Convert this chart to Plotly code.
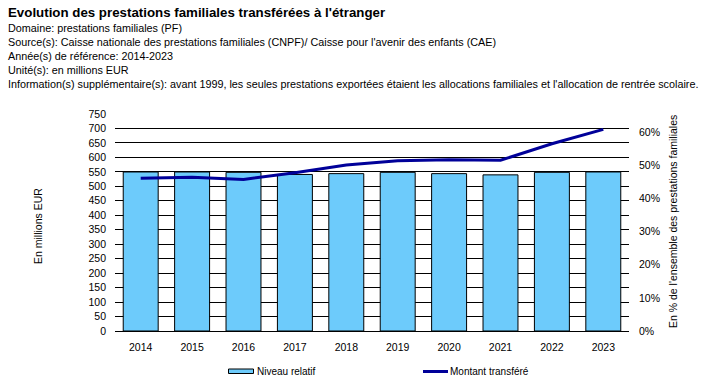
import plotly.graph_objects as go

years = ['2014', '2015', '2016', '2017', '2018', '2019', '2020', '2021', '2022', '2023']
niveau_relatif = [0.480, 0.480, 0.479, 0.4725, 0.475, 0.479, 0.475, 0.4713, 0.479, 0.480]
montant_transfere = [528, 531, 524, 547, 574, 588, 592, 590, 647, 697]

left_ticks = list(range(0, 751, 50))
right_ticks = [0, 0.1, 0.2, 0.3, 0.4, 0.5, 0.6]

title = "Evolution des prestations familiales transférées à l'étranger"
sublines = [
    "Domaine: prestations familiales (PF)",
    "Source(s): Caisse nationale des prestations familiales (CNPF)/ Caisse pour l'avenir des enfants (CAE)",
    "Année(s) de référence: 2014-2023",
    "Unité(s): en millions EUR",
    "Information(s) supplémentaire(s): avant 1999, les seules prestations exportées étaient les allocations familiales et l'allocation de rentrée scolaire.",
]

FONT = "Liberation Sans, Arial, sans-serif"
W, H = 708, 384
L, R, T, B = 115, 79, 114, 53
PW, PH = W - L - R, H - T - B


def X(px):
    return (px - L) / PW


def Y(py):
    return (H - B - py) / PH


BAR_COLOR = "#6DCBFB"
LINE_COLOR = "#000099"

fig = go.Figure()
fig.add_trace(go.Bar(
    x=years, y=niveau_relatif, name="Niveau relatif", yaxis="y",
    marker=dict(color=BAR_COLOR, line=dict(color="black", width=1)),
    width=0.68, showlegend=False,
))
fig.add_trace(go.Scatter(
    x=years, y=montant_transfere, name="Montant transféré", yaxis="y2",
    mode="lines", line=dict(color=LINE_COLOR, width=3), showlegend=False,
))

annotations = []
annotations.append(dict(text="<b>" + title + "</b>", x=X(6), y=Y(12), xref="paper", yref="paper",
                        xanchor="left", yanchor="middle", showarrow=False,
                        font=dict(family=FONT, size=13.3, color="black")))
for i, s in enumerate(sublines):
    annotations.append(dict(text=s, x=X(6), y=Y(27.5 + 14.2 * i), xref="paper", yref="paper",
                            xanchor="left", yanchor="middle", showarrow=False,
                            font=dict(family=FONT, size=10.8, color="black")))
annotations.append(dict(text="En millions EUR", x=X(38), y=Y(226), xref="paper", yref="paper",
                        textangle=-90, showarrow=False, xanchor="center", yanchor="middle",
                        font=dict(family=FONT, size=10.5, color="black")))
annotations.append(dict(text="En % de l'ensemble des prestations familiales", x=X(673), y=Y(222),
                        xref="paper", yref="paper", textangle=-90, showarrow=False,
                        xanchor="center", yanchor="middle",
                        font=dict(family=FONT, size=10.5, color="black")))
# legend
annotations.append(dict(text="Niveau relatif", x=X(255), y=Y(371.5), xref="paper", yref="paper",
                        xanchor="left", yanchor="middle", showarrow=False,
                        font=dict(family=FONT, size=10, color="black")))
annotations.append(dict(text="Montant transféré", x=X(448), y=Y(371.5), xref="paper", yref="paper",
                        xanchor="left", yanchor="middle", showarrow=False,
                        font=dict(family=FONT, size=10, color="black")))

shapes = [
    dict(type="rect", xref="paper", yref="paper", x0=X(228.5), x1=X(253.5), y0=Y(373.5), y1=Y(369),
         fillcolor=BAR_COLOR, line=dict(color="black", width=1)),
    dict(type="line", xref="paper", yref="paper", x0=X(423), x1=X(448), y0=Y(371.5), y1=Y(371.5),
         line=dict(color=LINE_COLOR, width=3)),
]

fig.update_layout(
    width=W, height=H,
    margin=dict(l=L, r=R, t=T, b=B),
    paper_bgcolor="white", plot_bgcolor="white",
    font=dict(family=FONT, size=10.5, color="black"),
    bargap=0.32,
    hovermode=False,
    xaxis=dict(type="category", showline=True, linecolor="black", linewidth=1,
               showgrid=False, ticks="", tickfont=dict(family=FONT, size=10.5, color="black"),
               ticklabelstandoff=6),
    yaxis=dict(side="right", range=[0, 0.655], tickvals=right_ticks, tickformat=".0%",
               showgrid=False, zeroline=False, showline=False, ticks="",
               ticklabelstandoff=9, tickfont=dict(family=FONT, size=10.5, color="black")),
    yaxis2=dict(side="left", overlaying="y", range=[0, 750], tickvals=left_ticks,
                showgrid=True, gridcolor="black", gridwidth=1, zeroline=False, showline=False,
                ticks="", ticklabelstandoff=8, tickfont=dict(family=FONT, size=10.5, color="black")),
    annotations=annotations,
    shapes=shapes,
)

fig.write_html("out.html", config={"displayModeBar": False},
               post_script="document.body.style.margin='0';document.body.style.overflow='hidden';")
